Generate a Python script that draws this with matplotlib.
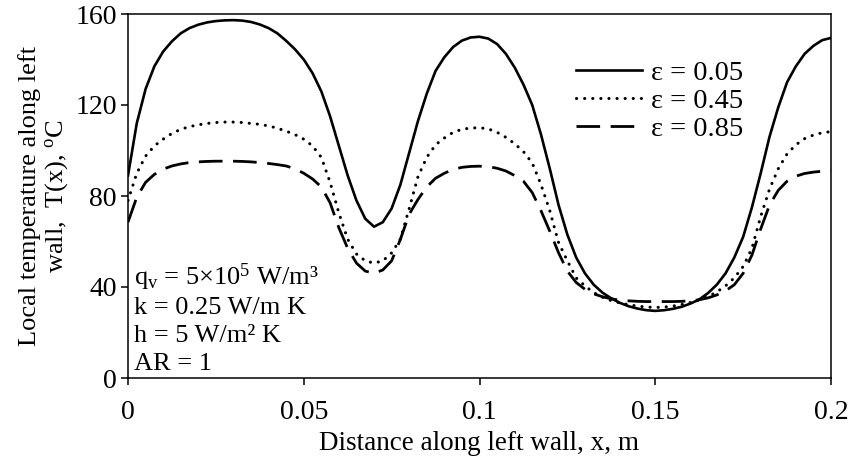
import matplotlib
matplotlib.use("Agg")
import matplotlib.pyplot as plt

plt.rcParams['font.family'] = ['Liberation Serif', 'DejaVu Serif']
plt.rcParams['mathtext.fontset'] = 'custom'
plt.rcParams['mathtext.rm'] = 'Liberation Serif'
plt.rcParams['mathtext.it'] = 'Liberation Serif:italic'

x = [0.0000, 0.0025, 0.0050, 0.0075, 0.0100, 0.0125, 0.0150, 0.0175, 0.0200, 0.0225,
     0.0250, 0.0275, 0.0300, 0.0325, 0.0350, 0.0375, 0.0400, 0.0425, 0.0450, 0.0475,
     0.0500, 0.0525, 0.0550, 0.0575, 0.0600, 0.0625, 0.0650, 0.0675, 0.0700, 0.0725,
     0.0750, 0.0775, 0.0800, 0.0825, 0.0850, 0.0875, 0.0900, 0.0925, 0.0950, 0.0975,
     0.1000, 0.1025, 0.1050, 0.1075, 0.1100, 0.1125, 0.1150, 0.1175, 0.1200, 0.1225,
     0.1250, 0.1275, 0.1300, 0.1325, 0.1350, 0.1375, 0.1400, 0.1425, 0.1450, 0.1475,
     0.1500, 0.1525, 0.1550, 0.1575, 0.1600, 0.1625, 0.1650, 0.1675, 0.1700, 0.1725,
     0.1750, 0.1775, 0.1800, 0.1825, 0.1850, 0.1875, 0.1900, 0.1925, 0.1950, 0.1975,
     0.2000]

t_eps005 = [89, 112, 127, 137, 143.5, 148, 151.5, 153.8, 155.3, 156.3,
            156.9, 157.2, 157.3, 157.1, 156.5, 155.4, 153.8, 151.5, 148.2, 144.5,
            140, 134, 126, 115, 102, 89, 78, 70, 66.5, 68.5,
            74.5, 85, 99, 113, 125, 135, 141, 145.5, 148.3, 149.7,
            150, 149.2, 146.8, 142.5, 136.5, 129, 120, 107, 92, 76,
            63, 53, 46, 41, 37.5, 35, 33, 31.5, 30.5, 29.8,
            29.5, 29.8, 30.4, 31.3, 32.7, 34.5, 37.3, 41, 46, 53,
            62, 75, 90, 106, 119, 130, 137, 142.5, 146, 148.5,
            149.5]

t_eps045 = [78, 90, 97.5, 102, 105, 107.5, 109.3, 110.5, 111.3, 111.9,
            112.3, 112.5, 112.5, 112.3, 111.9, 111.5, 110.8, 109.8, 108.5, 107,
            105, 102, 97, 86, 72.5, 61, 54.5, 51.5, 50.5, 51.5,
            55, 61, 74.5, 88.5, 97, 102.5, 105.5, 108, 109.3, 109.9,
            110, 109.5, 108, 105.8, 103, 99.5, 94.5, 85, 73.5, 59.5,
            51.5, 44, 40.5, 37.5, 35.5, 34, 33, 32.2, 31.6, 31.2,
            31, 31.2, 31.6, 32.3, 33.2, 34.3, 35.8, 37.8, 40.5, 44,
            49, 57, 71, 83, 92, 98.5, 102.5, 105.2, 106.8, 107.8,
            108.3]

t_eps085 = [68.5, 79.5, 86, 89.5, 91.8, 93.2, 94.1, 94.7, 95, 95.2,
            95.3, 95.3, 95.3, 95.2, 95, 94.7, 94.3, 93.8, 93.2, 92,
            90, 87.5, 84, 77, 66, 57, 50.5, 47, 46, 47.5,
            51.5, 61, 72, 78.5, 84, 87.8, 90, 91.7, 92.6, 93,
            93.1, 92.9, 92.2, 91, 89, 86.5, 81.5, 73.5, 64.5, 55,
            47, 42, 39, 37, 35.7, 34.8, 34.2, 33.9, 33.7, 33.6,
            33.6, 33.6, 33.6, 33.7, 33.9, 34.4, 35.2, 36.5, 38.3, 41,
            46, 54, 65.5, 76, 82.5, 86.5, 88.7, 89.9, 90.5, 90.9,
            91]

labels = ['ε = 0.05', 'ε = 0.45', 'ε = 0.85']
xticks = [0, 0.05, 0.1, 0.15, 0.2]
xticklabels = ['0', '0.05', '0.1', '0.15', '0.2']
yticks = [0, 40, 80, 120, 160]

fig = plt.figure(figsize=(8.52, 4.63), dpi=100)
ax = fig.add_axes([128/852, 1-378/463, (831-128)/852, (378-14)/463])

ax.plot(x, t_eps005, color='black', lw=1.9, label=labels[0])
ax.plot(x, t_eps045, color='black', lw=2.2, linestyle=(0, (0.05, 2.6)),
        dash_capstyle='round', label=labels[1])
ax.plot(x, t_eps085, color='black', lw=2.0, linestyle=(0, (8.5, 3.8)), label=labels[2])

ax.set_xlim(0, 0.2)
ax.set_ylim(0, 160)
ax.set_xticks(xticks)
ax.set_xticklabels(xticklabels)
ax.set_yticks(yticks)
ax.tick_params(axis='both', direction='out', length=5, width=1.1, labelsize=20)
ax.tick_params(axis='x', pad=10.5)
ax.tick_params(axis='y', pad=3)
for s in ax.spines.values():
    s.set_linewidth(1.1)

ax.set_xlabel('Distance along left wall, x, m', fontsize=19.5, labelpad=5)
ax.set_ylabel('Local temperature along left\nwall,  T(x), $^{\\mathrm{o}}$C', fontsize=19,
              labelpad=4, linespacing=1.1)

leg = ax.legend(loc='upper right', bbox_to_anchor=(0.891, 0.904), frameon=False,
                fontsize=20.5, handlelength=2.3, handletextpad=0.32, labelspacing=0.07,
                borderaxespad=0)

ann = ['q$_\\mathrm{v}$ = 5×10$^5$ W/m³', 'k = 0.25 W/m K', 'h = 5 W/m² K', 'AR = 1']
ann_y = [0.255, 0.177, 0.099, 0.021]
for s, yy in zip(ann, ann_y):
    ax.text(0.008, yy, s, transform=ax.transAxes, fontsize=19,
            ha='left', va='baseline')

fig.savefig('out.png', dpi=100)
